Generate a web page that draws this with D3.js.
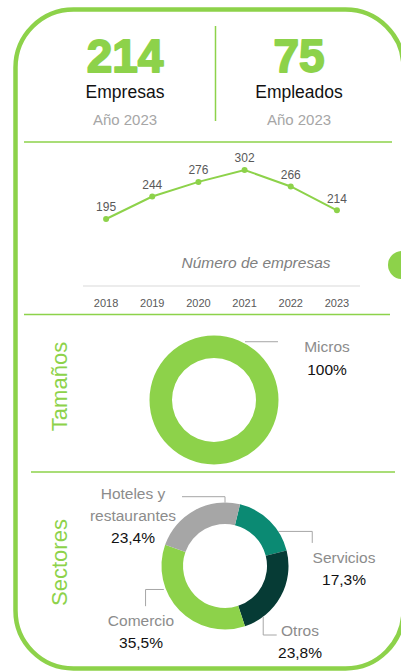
<!DOCTYPE html>
<html>
<head>
<meta charset="utf-8">
<script src="https://cdn.jsdelivr.net/npm/d3@7"></script>
<style>
  body { margin: 0; background: #fff; }
  svg { display: block; font-family: "Liberation Sans", Arial, sans-serif; }
</style>
</head>
<body>
<div id="chart"></div>
<script>
// summary figures
var summaryValues = [214, 75];
var summaryLabels = ["Empresas", "Empleados"];
var summaryYear = "Año 2023";

// number of companies per year
var years = ["2018", "2019", "2020", "2021", "2022", "2023"];
var empresas = [195, 244, 276, 302, 266, 214];
var lineTitle = "Número de empresas";

// sizes
var sizeCats = ["Micros"];
var sizeVals = [100];

// sectors
var sectorCats = ["Servicios", "Otros", "Comercio", "Hoteles y restaurantes"];
var sectorVals = [17.3, 23.8, 35.5, 23.4];

var green = "#8dd24a",
    width = 401,
    height = 671;

var sectorColors = { "Servicios": "#0b8a73", "Otros": "#063b35", "Comercio": "#8dd24a", "Hoteles y restaurantes": "#a6a6a6" };

// label layout for sector donut (angle in degrees on outer edge, leader elbow, text position)
var sectorLayout = {
    "Servicios": { angle: 57, pad: 0, path: [[34, 0], [34, 11.5]], x: 344, y: 563, lines: ["Servicios"] },
    "Otros": { angle: 143, pad: 0, path: [[0, 18.3], [13.5, 18.3]], x: 300, y: 636, lines: ["Otros"] },
    "Comercio": { angle: 249, pad: 2, path: [[-18.3, 0], [-18.3, 16.7]], x: 141, y: 626, lines: ["Comercio"] },
    "Hoteles y restaurantes": { angle: 0, pad: 0, path: [[0, -5.8], [-43, -5.8]], x: 133, y: 499, lines: ["Hoteles y", "restaurantes"] }
};

var fmtPct = function (v) { return d3.format(".1f")(v).replace(".", ",") + "%"; };

var svg = d3.select("#chart").append("svg")
    .attr("width", width)
    .attr("height", height);

// frame
svg.append("rect")
    .attr("x", 15.5).attr("y", 9.5)
    .attr("width", 388).attr("height", 659)
    .attr("rx", 58).attr("ry", 58)
    .attr("fill", "none")
    .attr("stroke", green)
    .attr("stroke-width", 4.5);

// side knob
svg.append("circle")
    .attr("cx", 402).attr("cy", 265).attr("r", 14)
    .attr("fill", green);

// ---- summary ----
var colX = [125, 299];
var summary = svg.selectAll("g.summary")
    .data(summaryValues)
    .enter().append("g")
    .attr("class", "summary")
    .attr("transform", function (d, i) { return "translate(" + colX[i] + ",0)"; });

summary.append("text")
    .attr("y", 72)
    .attr("text-anchor", "middle")
    .attr("font-size", 46)
    .attr("font-weight", "bold")
    .attr("fill", green)
    .attr("stroke", green)
    .attr("stroke-width", 1.8)
    .attr("stroke-linejoin", "round")
    .text(function (d) { return d; });

summary.append("text")
    .attr("y", 98)
    .attr("text-anchor", "middle")
    .attr("font-size", 17.5)
    .attr("fill", "#111")
    .text(function (d, i) { return summaryLabels[i]; });

summary.append("text")
    .attr("y", 125)
    .attr("text-anchor", "middle")
    .attr("font-size", 15)
    .attr("fill", "#a6a6a6")
    .text(summaryYear);

svg.append("line")
    .attr("x1", 215.5).attr("x2", 215.5)
    .attr("y1", 26).attr("y2", 121)
    .attr("stroke", green).attr("stroke-width", 1.5);

// separators
var seps = [[24, 392, 142], [24, 390, 314.5], [31, 395, 472]];
svg.selectAll("line.sep")
    .data(seps)
    .enter().append("line")
    .attr("class", "sep")
    .attr("x1", function (d) { return d[0]; })
    .attr("x2", function (d) { return d[1]; })
    .attr("y1", function (d) { return d[2]; })
    .attr("y2", function (d) { return d[2]; })
    .attr("stroke", green)
    .attr("stroke-width", 1.5);

// ---- line chart ----
var x = d3.scaleBand().domain(years).range([83, 360]);
var y = d3.scaleLinear().domain([100, 350]).range([262.5, 148]);
var cx = function (d, i) { return x(years[i]) + x.bandwidth() / 2; };

svg.append("line")
    .attr("x1", x.range()[0]).attr("x2", x.range()[1])
    .attr("y1", 286).attr("y2", 286)
    .attr("stroke", "#d9d9d9").attr("stroke-width", 1);

var xAxis = svg.append("g")
    .attr("transform", "translate(0,286)")
    .call(d3.axisBottom(x).tickSize(0).tickPadding(0));
xAxis.select(".domain").remove();
xAxis.selectAll("text")
    .attr("y", 20.5)
    .attr("dy", null)
    .attr("font-size", 11)
    .attr("font-family", "Liberation Sans, Arial, sans-serif")
    .attr("fill", "#595959");

svg.append("path")
    .datum(empresas)
    .attr("fill", "none")
    .attr("stroke", green)
    .attr("stroke-width", 2)
    .attr("d", d3.line().x(cx).y(function (d) { return y(d); }));

svg.selectAll("circle.pt")
    .data(empresas)
    .enter().append("circle")
    .attr("class", "pt")
    .attr("cx", cx)
    .attr("cy", function (d) { return y(d); })
    .attr("r", 3)
    .attr("fill", green);

svg.selectAll("text.val")
    .data(empresas)
    .enter().append("text")
    .attr("class", "val")
    .attr("x", cx)
    .attr("y", function (d) { return y(d) - 7.5; })
    .attr("text-anchor", "middle")
    .attr("font-size", 12)
    .attr("fill", "#595959")
    .text(function (d) { return d; });

svg.append("text")
    .attr("x", 256)
    .attr("y", 268)
    .attr("text-anchor", "middle")
    .attr("font-size", 15.5)
    .attr("font-style", "italic")
    .attr("fill", "#808080")
    .text(lineTitle);

// ---- section titles ----
var titles = [["Tamaños", 386.5], ["Sectores", 562.5]];
svg.selectAll("text.sect")
    .data(titles)
    .enter().append("text")
    .attr("class", "sect")
    .attr("transform", function (d) { return "translate(66.5," + d[1] + ") rotate(-90)"; })
    .attr("text-anchor", "middle")
    .attr("font-size", 22)
    .attr("fill", green)
    .text(function (d) { return d[0]; });

var rad = Math.PI / 180;
var edgePoint = function (c, r, deg) {
    return [c[0] + r * Math.sin(deg * rad), c[1] - r * Math.cos(deg * rad)];
};

// ---- sizes donut ----
var sizeC = [214, 400], sizeOuter = 64.5, sizeInner = 42;
var sizePie = d3.pie().sort(null)(sizeVals);
var sizeArc = d3.arc().innerRadius(sizeInner).outerRadius(sizeOuter);
svg.append("g")
    .attr("transform", "translate(" + sizeC + ")")
    .selectAll("path")
    .data(sizePie)
    .enter().append("path")
    .attr("d", sizeArc)
    .attr("fill", green);

var p0 = edgePoint(sizeC, sizeOuter + 1.5, 28);
svg.append("path")
    .attr("d", d3.line()([p0, [p0[0] + 33, p0[1]]]))
    .attr("fill", "none")
    .attr("stroke", "#a6a6a6")
    .attr("stroke-width", 1);

svg.append("text")
    .attr("x", 327).attr("y", 352)
    .attr("text-anchor", "middle")
    .attr("font-size", 15.5)
    .attr("fill", "#8c8c8c")
    .text(sizeCats[0]);
svg.append("text")
    .attr("x", 327).attr("y", 375)
    .attr("text-anchor", "middle")
    .attr("font-size", 15.5)
    .attr("fill", "#111")
    .text(sizeVals[0] + "%");

// ---- sectors donut ----
var secC = [225, 566], secOuter = 63.5, secInner = 42;
var start = 13.7 * rad;
var secPie = d3.pie().sort(null).startAngle(start).endAngle(start + 2 * Math.PI)(sectorVals);
var secArc = d3.arc().innerRadius(secInner).outerRadius(secOuter);
svg.append("g")
    .attr("transform", "translate(" + secC + ")")
    .selectAll("path")
    .data(secPie)
    .enter().append("path")
    .attr("d", secArc)
    .attr("fill", function (d, i) { return sectorColors[sectorCats[i]]; });

sectorCats.forEach(function (name, i) {
    var L = sectorLayout[name];
    var s = edgePoint(secC, secOuter + L.pad, L.angle);
    var pts = [s].concat(L.path.map(function (p) { return [s[0] + p[0], s[1] + p[1]]; }));
    svg.append("path")
        .attr("d", d3.line()(pts))
        .attr("fill", "none")
        .attr("stroke", "#a6a6a6")
        .attr("stroke-width", 1);

    var t = svg.append("text")
        .attr("text-anchor", "middle")
        .attr("font-size", 15.5);
    L.lines.forEach(function (ln, j) {
        t.append("tspan")
            .attr("x", L.x)
            .attr("y", L.y + j * 22)
            .attr("fill", "#8c8c8c")
            .text(ln);
    });
    t.append("tspan")
        .attr("x", L.x)
        .attr("y", L.y + L.lines.length * 22)
        .attr("fill", "#111")
        .text(fmtPct(sectorVals[i]));
});
</script>
</body>
</html>
